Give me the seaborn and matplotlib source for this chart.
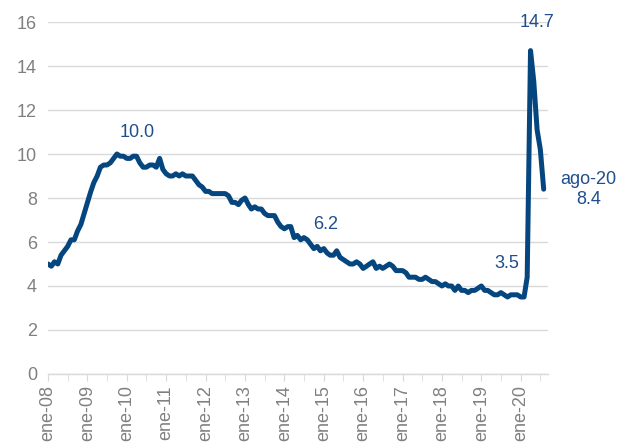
import numpy as np
import pandas as pd
import matplotlib
matplotlib.use("Agg")
import matplotlib.pyplot as plt
import seaborn as sns

# Tasa de desempleo mensual (%), ene-08 a ago-20
rate_2008 = [5.0, 4.9, 5.1, 5.0, 5.4, 5.6, 5.8, 6.1, 6.1, 6.5, 6.8, 7.3]
rate_2009 = [7.8, 8.3, 8.7, 9.0, 9.4, 9.5, 9.5, 9.6, 9.8, 10.0, 9.9, 9.9]
rate_2010 = [9.8, 9.8, 9.9, 9.9, 9.6, 9.4, 9.4, 9.5, 9.5, 9.4, 9.8, 9.3]
rate_2011 = [9.1, 9.0, 9.0, 9.1, 9.0, 9.1, 9.0, 9.0, 9.0, 8.8, 8.6, 8.5]
rate_2012 = [8.3, 8.3, 8.2, 8.2, 8.2, 8.2, 8.2, 8.1, 7.8, 7.8, 7.7, 7.9]
rate_2013 = [8.0, 7.7, 7.5, 7.6, 7.5, 7.5, 7.3, 7.2, 7.2, 7.2, 6.9, 6.7]
rate_2014 = [6.6, 6.7, 6.7, 6.2, 6.3, 6.1, 6.2, 6.1, 5.9, 5.7, 5.8, 5.6]
rate_2015 = [5.7, 5.5, 5.4, 5.4, 5.6, 5.3, 5.2, 5.1, 5.0, 5.0, 5.1, 5.0]
rate_2016 = [4.8, 4.9, 5.0, 5.1, 4.8, 4.9, 4.8, 4.9, 5.0, 4.9, 4.7, 4.7]
rate_2017 = [4.7, 4.6, 4.4, 4.4, 4.4, 4.3, 4.3, 4.4, 4.3, 4.2, 4.2, 4.1]
rate_2018 = [4.0, 4.1, 4.0, 4.0, 3.8, 4.0, 3.8, 3.8, 3.7, 3.8, 3.8, 3.9]
rate_2019 = [4.0, 3.8, 3.8, 3.7, 3.6, 3.6, 3.7, 3.6, 3.5, 3.6, 3.6, 3.6]
rate_2020 = [3.5, 3.5, 4.4, 14.7, 13.3, 11.1, 10.2, 8.4]

values = (rate_2008 + rate_2009 + rate_2010 + rate_2011 + rate_2012 + rate_2013
          + rate_2014 + rate_2015 + rate_2016 + rate_2017 + rate_2018 + rate_2019
          + rate_2020)
dates = pd.date_range("2008-01-01", periods=len(values), freq="MS")
df = pd.DataFrame({"fecha": dates, "tasa": values})

years = list(range(2008, 2021))
tick_labels = ["ene-%02d" % (y % 100) for y in years]

# etiquetas: (fecha del punto, texto, desplazamiento en pixeles)
notes = [
    ("2009-10-01", "10.0", (20, 22)),
    ("2014-07-01", "6.2", (22, 13)),
    ("2020-02-01", "3.5", (-17, 34)),
    ("2020-04-01", "14.7", (6, 28)),
    ("2020-08-01", "ago-20\n8.4", (45, 0)),
]

sns.set_style("white")
plt.rcParams["font.family"] = ["Liberation Sans", "DejaVu Sans"]

line_color = "#05467f"
text_color = "#1f4e8c"
gray = "#808080"

fig = plt.figure(figsize=(6.19, 4.44), dpi=100)
ax = fig.add_axes([48 / 619, 1 - 374 / 444, 500 / 619, 352 / 444])

sns.lineplot(data=df, x="fecha", y="tasa", ax=ax, color=line_color, linewidth=3.6)

ax.set_ylim(0, 16)
ax.set_yticks(range(0, 17, 2))
ax.set_xlim(pd.Timestamp("2008-01-01"), pd.Timestamp("2020-09-10"))
ax.set_xticks([pd.Timestamp("%d-01-01" % y) for y in years])
ax.set_xticklabels(tick_labels, rotation=90)
ax.set_xticks([pd.Timestamp("%d-07-01" % y) for y in years], minor=True)
ax.set_xlabel("")
ax.set_ylabel("")

ax.grid(axis="y", color="#d9d9d9", linewidth=1)
ax.set_axisbelow(True)
for s in ["top", "right", "left"]:
    ax.spines[s].set_visible(False)
ax.spines["bottom"].set_color("#d9d9d9")
ax.spines["bottom"].set_linewidth(1)
ax.tick_params(axis="y", length=0, labelsize=13, labelcolor=gray, pad=8)
ax.tick_params(axis="x", which="both", direction="out", length=5, color="#d9d9d9",
               labelsize=13, labelcolor=gray, bottom=True, pad=3)

for d, txt, off in notes:
    y = df.loc[df["fecha"] == pd.Timestamp(d), "tasa"].iloc[0]
    ax.annotate(txt, xy=(pd.Timestamp(d), y), xytext=off, textcoords="offset pixels",
                ha="center", va="center", fontsize=13, color=text_color,
                multialignment="center", annotation_clip=False)

fig.savefig("out.png", dpi=100)
